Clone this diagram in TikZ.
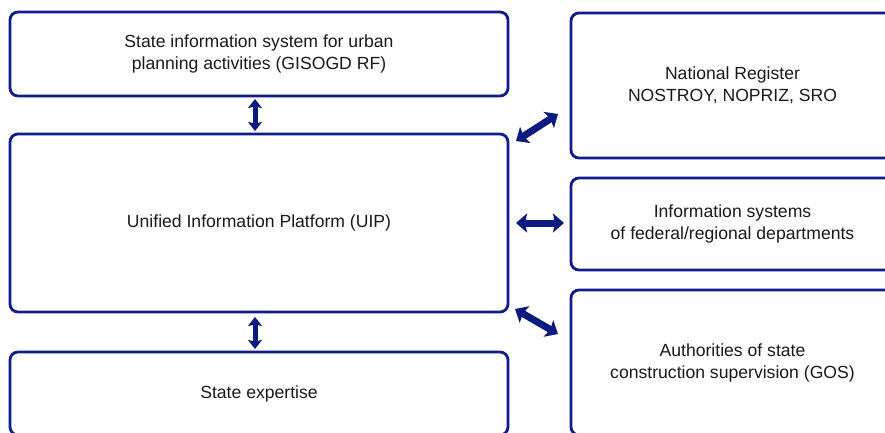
\documentclass[tikz,border=0pt]{standalone}
\usepackage{fontspec}
\setmainfont{Liberation Sans}
\usetikzlibrary{arrows.meta,calc}
\definecolor{boxline}{HTML}{101C8C}
\definecolor{arrowfill}{HTML}{0A1A7E}
\definecolor{txt}{HTML}{1A1A1A}
\begin{document}
\begin{tikzpicture}[x=1pt,y=-1pt,
  box/.style={draw=boxline, line width=2.8pt, rounded corners=8pt, rectangle,
    inner sep=0pt, outer sep=0pt, align=center, text=txt,
    font=\fontsize{17.6}{22}\selectfont},
  dblv/.style={draw=arrowfill, line width=5pt,
    {Stealth[length=9pt,width=14pt,inset=1.5pt]}-{Stealth[length=9pt,width=14pt,inset=1.5pt]}},
  dblh/.style={draw=arrowfill, line width=7pt,
    {Stealth[length=11pt,width=19pt,inset=2pt]}-{Stealth[length=11pt,width=19pt,inset=2pt]}}]
\useasboundingbox (0,0) rectangle (885,433);
\clip (0,0) rectangle (885,433);
\fill[white] (0,0) rectangle (885,433);

% left column
\node[box, minimum width=498pt, minimum height=84pt] (gis) at (259,54)
  {State information system for urban\\planning activities (GISOGD RF)};
\node[box, minimum width=498pt, minimum height=178pt] (uip) at (259,223)
  {Unified Information Platform (UIP)};
\node[box, minimum width=498pt, minimum height=83pt] (exp) at (259,393.5)
  {State expertise};

% right column
\node[box, minimum width=323pt, minimum height=145pt] (nr) at (732.5,85.5)
  {National Register\\NOSTROY, NOPRIZ, SRO};
\node[box, minimum width=323pt, minimum height=92pt] (info) at (732.5,224)
  {Information systems\\of federal/regional departments};
\node[box, minimum width=323pt, minimum height=145pt] (gos) at (732.5,362.5)
  {Authorities of state\\construction supervision (GOS)};

% vertical links
\draw[dblv, shorten <=3pt, shorten >=3pt] ($(gis.south)+(-4,0)$) -- ($(uip.north)+(-4,0)$);
\draw[dblv, shorten <=5pt, shorten >=3pt] ($(uip.south)+(-4,0)$) -- ($(exp.north)+(-4,0)$);

% links to the right column
\coordinate (nrA) at ($(uip.north east)+(8,7)$);
\coordinate (nrB) at ($(nr.west)+(-13,28.5)$);
\draw[dblh] (nrA) -- (nrB);
\draw[dblh, shorten <=8pt, shorten >=7pt] (uip.east) -- (uip.east -| info.west);
\coordinate (gosA) at ($(uip.south east)+(7,-3)$);
\coordinate (gosB) at ($(gos.west)+(-13,-28.5)$);
\draw[dblh] (gosA) -- (gosB);
\end{tikzpicture}
\end{document}
